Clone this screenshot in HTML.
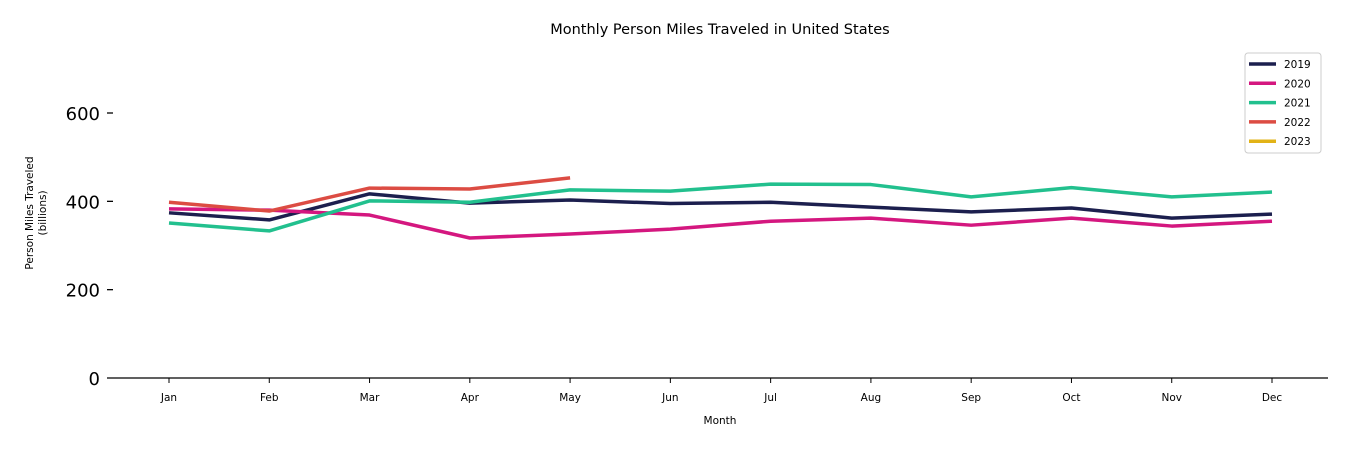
<!DOCTYPE html>
<html><head><meta charset="utf-8">
<style>
body{margin:0;background:#fff;}
svg text{font-family:"DejaVu Sans","Liberation Sans",sans-serif;}
</style></head>
<body>
<svg id="chart" width="1350" height="450">
<text x="720" y="34" text-anchor="middle" font-size="14.5">Monthly Person Miles Traveled in United States</text>
<g id="yaxis"></g>
<g id="xaxis"></g>
<line x1="107" y1="378" x2="1328" y2="378" stroke="#000" stroke-width="1.3"/>
<text x="720" y="424" text-anchor="middle" font-size="10.5">Month</text>
<text transform="translate(33,213) rotate(-90)" text-anchor="middle" font-size="10.5"><tspan x="0" dy="0">Person Miles Traveled</tspan><tspan x="0" dy="13">(billions)</tspan></text>
<g id="series"></g>
<g id="legend"></g>
</svg>
<script>
const months=["Jan","Feb","Mar","Apr","May","Jun","Jul","Aug","Sep","Oct","Nov","Dec"];
const yTicks=[0,200,400,600];
const years=["2019","2020","2021","2022","2023"];
const colors=["#1c1f4e","#d4177f","#22c08e","#dc4c43","#e2b317"];
const v2019=[374,358,417,396,403,395,398,387,376,385,362,371];
const v2020=[383,380,369,317,326,337,355,362,346,362,344,355];
const v2021=[351,333,401,398,426,423,439,438,410,431,410,421];
const v2022=[398,378,430,428,453];
const v2023=[];
const seriesVals=[v2019,v2020,v2021,v2022,v2023];

const NS="http://www.w3.org/2000/svg";
const x=i=>169+i*(1272-169)/11;
const y=v=>378-v*(378-113)/600;
function mk(t,a,p){const e=document.createElementNS(NS,t);for(const k in a)e.setAttribute(k,a[k]);p.appendChild(e);return e;}
const ya=document.getElementById('yaxis');
yTicks.forEach(t=>{
  const tx=mk('text',{x:100,y:y(t)+7,'text-anchor':'end','font-size':18},ya);tx.textContent=t;
  
  
  if(t>0){const l=mk('line',{x1:107,x2:113,y1:y(t),y2:y(t),stroke:'#000','stroke-width':1.3},ya);
  
  }
});
const xa=document.getElementById('xaxis');
months.forEach((m,i)=>{
  const l=mk('line',{x1:x(i),x2:x(i),y1:378,y2:383,stroke:'#000','stroke-width':1},xa);
  
  
  const tx=mk('text',{x:x(i),y:401,'text-anchor':'middle','font-size':10.5},xa);tx.textContent=m;
  
  
});
const sg=document.getElementById('series');
seriesVals.forEach((vals,s)=>{
  if(!vals.length)return;
  const p=mk('polyline',{points:vals.map((v,i)=>x(i)+','+y(v)).join(' '),fill:'none',stroke:colors[s],'stroke-width':3.5,'stroke-linejoin':'round'},sg);
  
  
});
const lg=document.getElementById('legend');
const box=mk('rect',{x:1245,y:53,width:76,height:100,fill:'#fff',stroke:'#ccc',rx:3},lg);


years.forEach((yr,i)=>{
  const yy=64+i*19.3;
  const g=mk('g',{},lg);
  
  
  mk('line',{x1:1249,x2:1276,y1:yy,y2:yy,stroke:colors[i],'stroke-width':3.5},g);
  const t=mk('text',{x:1284,y:yy+4,'font-size':10.5},g);t.textContent=yr;
});
</script>
</body></html>
